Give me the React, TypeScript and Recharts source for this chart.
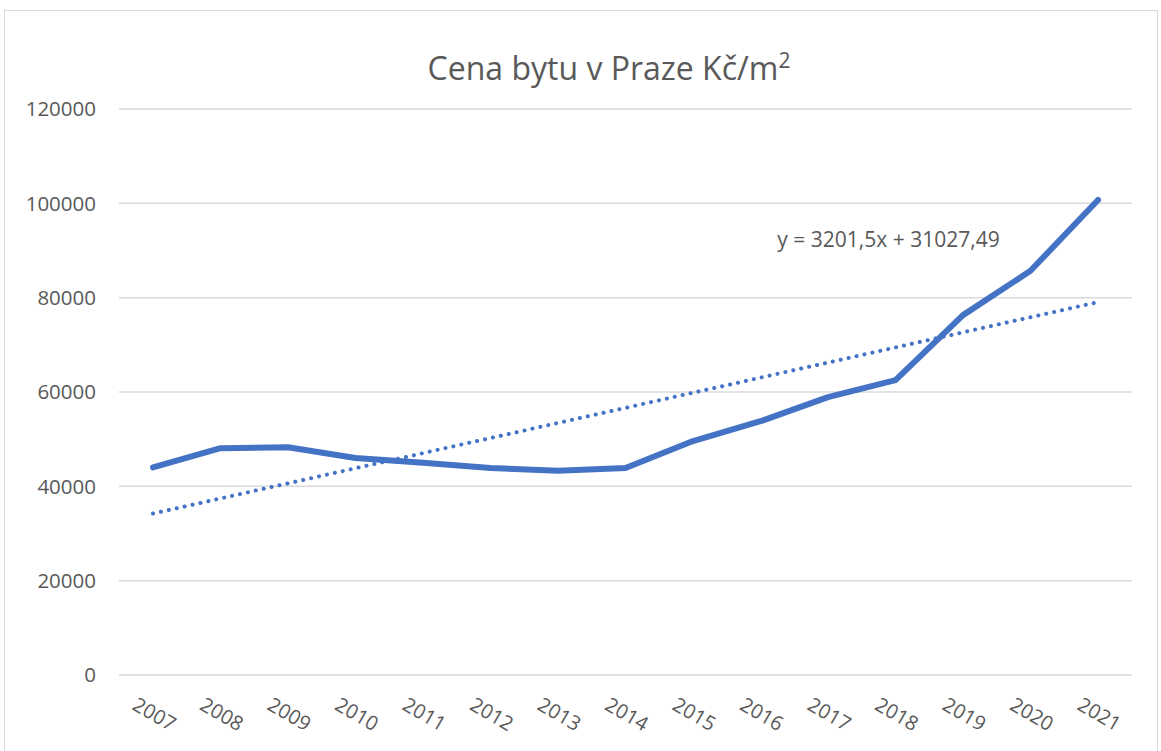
import React from 'react';
import { LineChart, Line, XAxis, YAxis, CartesianGrid, ReferenceLine, ReferenceDot } from 'recharts';

// Prague flat price, CZK per m2
const years = ['2007', '2008', '2009', '2010', '2011', '2012', '2013', '2014', '2015', '2016', '2017', '2018', '2019', '2020', '2021'];
const prices = [44000, 48100, 48300, 46000, 45000, 43900, 43300, 43900, 49600, 53800, 58900, 62500, 76300, 85700, 100700];
const yTicks = [0, 20000, 40000, 60000, 80000, 100000, 120000];

// linear trend end points (from the equation in the picture)
const trendStart = 34229;
const trendEnd = 79050;
const trendLabel = 'y = 3201,5x + 31027,49';

const data = years.map((year, i) => ({ year, price: prices[i] }));

const textColor = '#595959';
const blue = '#4472C4';

export default function App() {
  return (
    <div style={{ position: 'absolute', left: 0, top: 0, width: 1161, height: 751, background: '#fff', overflow: 'hidden' }}>
      {/* chart frame */}
      <div style={{ position: 'absolute', left: 4, top: 10, width: 1152, height: 760, border: '1.5px solid #d9d9d9' }} />
      <div
        style={{
          position: 'absolute',
          left: 609,
          top: 46,
          transform: 'translateX(-50%)',
          fontFamily: 'Open Sans',
          fontSize: 32,
          color: textColor,
          whiteSpace: 'nowrap',
        }}
      >
        Cena bytu v Praze Kč/m<sup style={{ fontSize: 21 }}>2</sup>
      </div>
      <LineChart
        width={1161}
        height={751}
        data={data}
        margin={{ top: 109, right: 29, left: 0, bottom: 0 }}
        style={{ position: 'absolute', left: 0, top: 0 }}
      >
        <CartesianGrid vertical={false} stroke="#d9d9d9" strokeWidth={1.5} />
        <XAxis
          dataKey="year"
          height={76}
          padding={{ left: 34, right: 34 }}
          axisLine={false}
          tickLine={false}
          tickSize={0}
          tickMargin={33}
          interval={0}
          angle={30}
          dx={5}
          textAnchor="middle"
          tick={{ fill: textColor, fontFamily: 'Open Sans', fontSize: 20 }}
        />
        <YAxis
          width={119}
          domain={[0, 120000]}
          ticks={yTicks}
          axisLine={false}
          tickLine={false}
          tickSize={0}
          tickMargin={23}
          tick={{ fill: textColor, fontFamily: 'Open Sans', fontSize: 20.5 }}
        />
        <ReferenceLine
          segment={[
            { x: years[0], y: trendStart },
            { x: years[years.length - 1], y: trendEnd },
          ]}
          stroke={blue}
          strokeWidth={4}
          strokeDasharray="0.1 8"
          strokeLinecap="round"
        />
        <Line
          type="linear"
          dataKey="price"
          stroke={blue}
          strokeWidth={6}
          strokeLinecap="round"
          strokeLinejoin="round"
          dot={false}
          activeDot={false}
          isAnimationActive={false}
        />
        <ReferenceDot
          x="2018"
          y={92300}
          r={0}
          fill="none"
          stroke="none"
          label={{ value: trendLabel, position: 'center', dx: -7, fill: textColor, fontFamily: 'Open Sans', fontSize: 21 }}
        />
      </LineChart>
    </div>
  );
}
